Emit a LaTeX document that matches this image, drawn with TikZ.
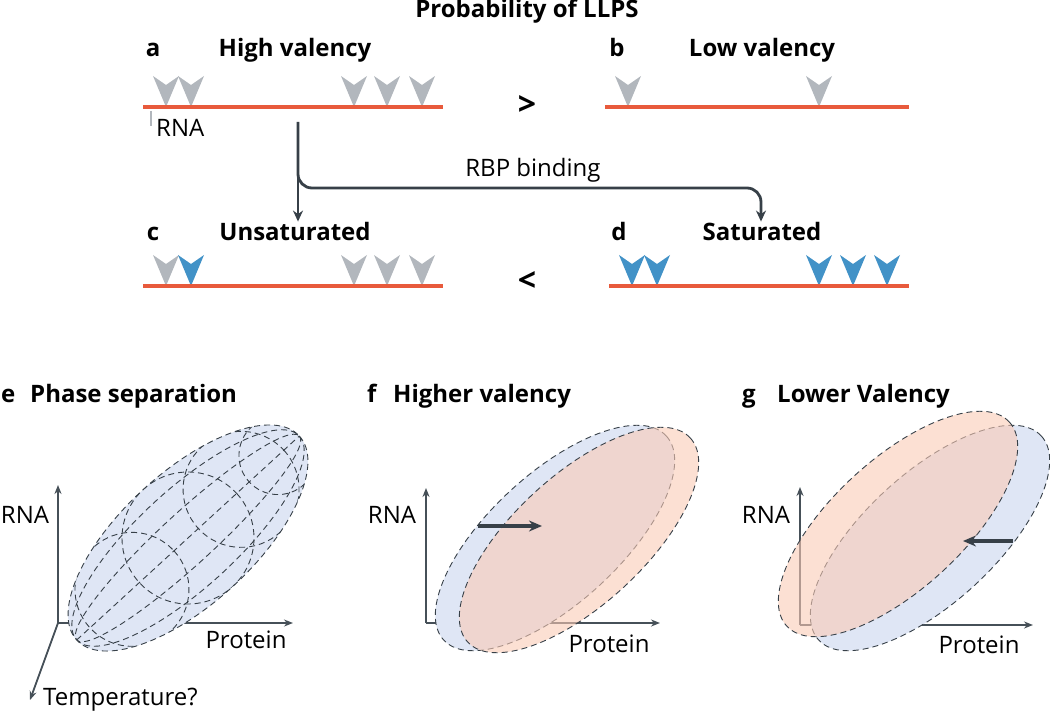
\documentclass[tikz,border=0pt]{standalone}
\usepackage{fontspec}
\setmainfont{Open Sans}
\usetikzlibrary{arrows.meta,positioning}
\definecolor{rnared}{RGB}{232,90,60}
\definecolor{sitegray}{RGB}{178,183,189}
\definecolor{siteblue}{RGB}{66,146,199}
\definecolor{darkline}{RGB}{55,64,72}
\definecolor{axisgray}{RGB}{70,80,88}
\definecolor{phaseblue}{RGB}{223,230,245}
\definecolor{phasesalmon}{RGB}{250,203,182}
\tikzset{
  head/.style={font=\fontsize{24}{28}\selectfont\bfseries, anchor=base, inner sep=1pt},
  lab/.style={font=\fontsize{24}{28}\selectfont, anchor=base, inner sep=1pt},
  compare/.style={font=\fontsize{32}{36}\selectfont\bfseries, inner sep=1pt},
  strand/.style={rnared, line width=4pt},
  link/.style={darkline, line width=2.8pt, -{Stealth[length=11pt,width=10pt]}},
  axis/.style={axisgray, line width=1.8pt, -{Stealth[length=9pt,width=7pt]}},
  shiftarrow/.style={darkline, line width=3.2pt, -{Stealth[length=13pt,width=11pt]}},
  outline/.style={darkline, line width=0.9pt, dash pattern=on 6pt off 4pt},
  site/.pic={\fill (0,0) -- (-13,-31) -- (0,-22) -- (13,-31) -- cycle;}
}

\begin{document}
\begin{tikzpicture}[x=1pt,y=-1pt]
  \useasboundingbox (0,0) rectangle (1050,714);
  % headings
  \node[head] (title) at (527,18) {Probability of LLPS};
  \node[head] (la) at (153,57) {a};
  \node[head] (high) at (295,57) {High valency};
  \node[head] (lb) at (617,57) {b};
  \node[head] (low) at (762,57) {Low valency};
  \node[head] (lc) at (153,241) {c};
  \node[head] (unsat) at (295,241) {Unsaturated};
  \node[head] (ld) at (619,241) {d};
  \node[head] (sat) at (762,241) {Saturated};
  \node[compare] (gt) at (527,106) {>};
  \node[compare] (lt) at (527,281) {<};

  % binding sites
  \foreach \x in {166,191,354,387,422} \pic[fill=sitegray] at (\x,107) {site};
  \foreach \x in {628,819} \pic[fill=sitegray] at (\x,107) {site};
  \foreach \x in {166,354,387,422} \pic[fill=sitegray] at (\x,286) {site};
  \pic[fill=siteblue] at (191,286) {site};
  \foreach \x in {632,657,819,853,887} \pic[fill=siteblue] at (\x,286) {site};

  % RNA strands
  \draw[strand] (143,107) -- (443,107);
  \draw[strand] (605,107) -- (909,107);
  \draw[strand] (143,286) -- (443,286);
  \draw[strand] (609,286) -- (909,286);
  \draw[sitegray, line width=1.5pt] (151,111) -- (151,126);
  \node[lab, anchor=base west] (rna) at (155,137) {RNA};

  % RBP binding
  \coordinate (fork) at (298,122);
  \coordinate (bend) at (761,188);
  \draw[link] (fork) -- (fork |- unsat.north);
  \draw[link, rounded corners=14pt] (fork) |- (bend) -- (bend |- sat.north);
  \node[lab] (rbp) at (533,177) {RBP binding};

  % panel titles
  \node[head, anchor=base west] (le) at (0,402) {e};
  \node[head, anchor=base west] (phase) at (29,402) {Phase separation};
  \node[head, anchor=base west] (lf) at (366,402) {f};
  \node[head, anchor=base west] (higher) at (392,402) {Higher valency};
  \node[head, anchor=base west] (lg) at (741,402) {g};
  \node[head, anchor=base west] (lower) at (776,402) {Lower Valency};

  % e axes
  \coordinate (eO) at (58,623);
  \coordinate (eY) at (58,485);
  \coordinate (eX) at (293,623);
  \coordinate (eZ) at (30,700);
  \draw[axis] (eO) -- (eY);
  \draw[axis] (eO) -- (eX);
  \draw[axis] (eO) -- (eZ);
  \node[lab] (eRNA) at (25,523) {RNA};
  \node[lab] (eProt) at (246,648) {Protein};
  \node[lab, anchor=base west] (eTemp) at (42,705) {Temperature?};

  % e ellipsoid
  \begin{scope}[shift={(188,538)}, rotate=42.5]
    \fill[phaseblue] (0,0) ellipse [x radius=151, y radius=66];
    \begin{scope}
      \clip (0,0) ellipse [x radius=151, y radius=66];
      \draw[outline] (0,0) ellipse [x radius=151, y radius=26];
      \draw[outline] (0,0) ellipse [x radius=151, y radius=49];
      \draw[outline] (-151,0) -- (151,0);
      \foreach \c/\r in {-76/57,0/66,72/58,122/39}
        \draw[outline] (\c,0) circle [radius=\r];
    \end{scope}
    \draw[outline] (0,0) ellipse [x radius=151, y radius=66];
  \end{scope}

  % f axes
  \coordinate (fO) at (426,623);
  \coordinate (fY) at (426,488);
  \coordinate (fX) at (660,623);
  \draw[axis] (fO) -- (fY);
  \draw[axis] (fO) -- (fX);
  \node[lab] (fRNA) at (392,523) {RNA};
  \node[lab] (fProt) at (609,652) {Protein};
  % f phases
  \begin{scope}[shift={(555,538)}, rotate=42.5]
    \fill[phaseblue] (0,0) ellipse [x radius=151, y radius=65];
    \draw[outline] (0,0) ellipse [x radius=151, y radius=65];
  \end{scope}
  \begin{scope}[shift={(579,540)}, rotate=42.5]
    \fill[phasesalmon, opacity=0.6] (0,0) ellipse [x radius=151, y radius=65];
    \draw[outline] (0,0) ellipse [x radius=151, y radius=65];
  \end{scope}
  \coordinate (fA) at (478,526);
  \coordinate (fB) at (542,526);
  \draw[shiftarrow] (fA) -- (fB);

  % g axes
  \coordinate (gO) at (800,625);
  \coordinate (gY) at (800,487);
  \coordinate (gX) at (1033,625);
  \draw[axis] (gO) -- (gY);
  \draw[axis] (gO) -- (gX);
  \node[lab] (gRNA) at (766,523) {RNA};
  \node[lab] (gProt) at (979,653) {Protein};
  % g phases
  \begin{scope}[shift={(930,538)}, rotate=42.5]
    \fill[phaseblue] (0,0) ellipse [x radius=151, y radius=65];
    \draw[outline] (0,0) ellipse [x radius=151, y radius=65];
  \end{scope}
  \begin{scope}[shift={(898,524)}, rotate=42.5]
    \fill[phasesalmon, opacity=0.6] (0,0) ellipse [x radius=151, y radius=65];
    \draw[outline] (0,0) ellipse [x radius=151, y radius=65];
  \end{scope}
  \coordinate (gA) at (1013,541);
  \coordinate (gB) at (963,541);
  \draw[shiftarrow] (gA) -- (gB);
\end{tikzpicture}
\end{document}
